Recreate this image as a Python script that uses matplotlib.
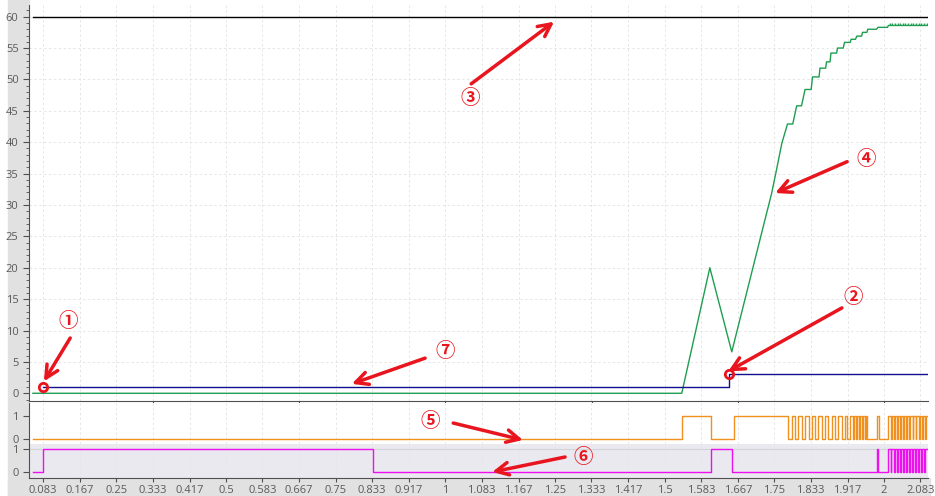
import numpy as np
import matplotlib.pyplot as plt
from matplotlib.patches import Rectangle
from matplotlib.ticker import MultipleLocator, FixedLocator

#-------------------------- data --------------------------

limit_t = [0.06, 2.1]                       # (3) upper limit
limit_v = [60, 60]

setpoint_t = [0.083, 1.647, 2.1]            # (7) blue step
setpoint_v = [1, 3, 3]

speed_t = [0.06, 1.539, 1.603, 1.653, 1.717, 1.744, 1.755, 1.767, 1.780, 1.792,
           1.801, 1.812, 1.820, 1.834, 1.837, 1.852, 1.854, 1.867, 1.869, 1.877,
           1.879, 1.892, 1.894, 1.907, 1.910, 1.923, 1.925, 1.935, 1.938, 1.949,
           1.951, 1.961, 1.963, 1.983, 1.986, 2.008, 2.010, 2.1]
speed_v = [0, 0, 20, 6.6, 24.4, 31.9, 35.6, 39.8, 42.9, 42.9,
           45.8, 45.8, 48.4, 48.4, 50.4, 50.4, 51.8, 51.8, 52.8, 52.8,
           54.2, 54.2, 55.0, 55.0, 55.9, 55.9, 56.4, 56.4, 56.9, 56.9,
           57.5, 57.5, 58.0, 58.0, 58.3, 58.3, 58.6, 58.6]
speed_tail_t = [2.013, 2.019, 2.025, 2.031, 2.037, 2.043, 2.049, 2.055,
                2.061, 2.067, 2.073, 2.079, 2.085, 2.091, 2.097]

out5_t = [0.06, 1.539, 1.605, 1.659, 1.782, 1.790, 1.797, 1.805, 1.812, 1.820,
          1.828, 1.835, 1.843, 1.850, 1.858, 1.866, 1.873, 1.881, 1.888, 1.896,
          1.904, 1.911, 1.916, 1.923, 1.929, 1.931, 1.936, 1.938, 1.943, 1.945,
          1.950, 1.952, 1.956, 1.958, 1.961, 1.983, 1.988, 2.010, 2.016, 2.018,
          2.023, 2.025, 2.030, 2.032, 2.037, 2.039, 2.044, 2.046, 2.051, 2.053,
          2.058, 2.060, 2.065, 2.067, 2.072, 2.074, 2.079, 2.081, 2.086, 2.088,
          2.093, 2.095, 2.1]
out5_v = [0, 1, 0, 1, 0, 1, 0, 1, 0, 1,
          0, 1, 0, 1, 0, 1, 0, 1, 0, 1,
          0, 1, 0, 1, 0, 1, 0, 1, 0, 1,
          0, 1, 0, 1, 0, 1, 0, 1, 0, 1,
          0, 1, 0, 1, 0, 1, 0, 1, 0, 1,
          0, 1, 0, 1, 0, 1, 0, 1, 0, 1,
          0, 1, 1]

out6_t = [0.06, 0.083, 0.835, 1.606, 1.653, 1.983, 1.986, 2.010, 2.015, 2.017,
          2.022, 2.024, 2.029, 2.031, 2.036, 2.038, 2.043, 2.045, 2.050, 2.052,
          2.057, 2.059, 2.064, 2.066, 2.071, 2.073, 2.078, 2.080, 2.085, 2.087,
          2.092, 2.094, 2.1]
out6_v = [0, 1, 0, 1, 0, 1, 0, 1, 0, 1,
          0, 1, 0, 1, 0, 1, 0, 1, 0, 1,
          0, 1, 0, 1, 0, 1, 0, 1, 0, 1,
          0, 1, 1]

xtick_labels = ['0.083', '0.167', '0.25', '0.333', '0.417', '0.5', '0.583', '0.667',
                '0.75', '0.833', '0.917', '1', '1.083', '1.167', '1.25', '1.333',
                '1.417', '1.5', '1.583', '1.667', '1.75', '1.833', '1.917', '2', '2.083']
xtick_pos = [float(s) for s in xtick_labels]
third_ticks = [1/3, 2/3, 1, 4/3, 5/3, 2]

#-------------------------- style --------------------------

plt.rcParams['font.family'] = ['Open Sans', 'DejaVu Sans']
RED = '#e8141e'
AXC = '#505050'
TXT = '#5a5a5a'
GRID = '#e6e6e6'
DASH = (0, (2.5, 2.5))
XL = (0.0511, 2.1003)

W, H = 935, 496
fig = plt.figure(figsize=(W / 100, H / 100), dpi=100)

def frac(x0, y0, x1, y1):
    # pixel box (top-left origin) -> figure fraction rect
    return [x0 / W, 1 - y1 / H, (x1 - x0) / W, (y1 - y0) / H]

# gray label bands
fig.patches.append(Rectangle((8 / W, 0), 21 / W, 1, transform=fig.transFigure,
                             color='#e1e1e1', zorder=-5))
fig.patches.append(Rectangle((8 / W, 0), 922 / W, 18 / H, transform=fig.transFigure,
                             color='#e1e1e1', zorder=-5))

ax = fig.add_axes(frac(29, 5, 928, 401))
ax5 = fig.add_axes(frac(29, 403, 928, 444))
ax6 = fig.add_axes(frac(29, 444, 928, 478))
ax6.set_facecolor('#e9e9ef')

for a in (ax, ax5, ax6):
    a.set_xlim(*XL)
    for s in a.spines.values():
        s.set_visible(False)
    a.spines['left'].set_visible(True)
    a.spines['left'].set_color(AXC)
    a.tick_params(axis='both', colors=AXC, labelcolor=TXT, labelsize=8, length=4, width=0.8)
    for xv in xtick_pos:
        a.axvline(xv, color=GRID, lw=0.7, ls=DASH, zorder=0)

# main panel
ax.set_ylim(-1.23, 61.86)
ax.set_yticks(np.arange(0, 61, 5))
ax.yaxis.set_minor_locator(MultipleLocator(1))
ax.tick_params(axis='y', which='minor', length=2, colors=AXC)
ax.spines['bottom'].set_visible(True)
ax.spines['bottom'].set_color(AXC)
ax.xaxis.set_major_locator(FixedLocator(third_ticks))
ax.tick_params(axis='x', labelbottom=False)
for yv in range(5, 61, 5):
    ax.axhline(yv, color=GRID, lw=0.7, ls=DASH, zorder=0)

ax.plot(limit_t, limit_v, color='black', lw=1)
ax.plot(speed_t, speed_v, color='#1e9e50', lw=1)
ax.vlines(speed_tail_t, 58.6, 59.0, color='#1e9e50', lw=1)
ax.plot(setpoint_t, setpoint_v, color='#101090', lw=1, drawstyle='steps-post')
ax.plot([setpoint_t[0], setpoint_t[1]], [setpoint_v[0], setpoint_v[1]], 'o', ms=6,
        mfc='none', mec=RED, mew=2, zorder=5)

# digital panels
ax5.set_ylim(-0.2, 1.56)
ax5.set_yticks([0, 1])
ax5.set_xticks([])
ax5.plot(out5_t, out5_v, color='#f0901e', lw=1, drawstyle='steps-post')

ax6.set_ylim(-0.264, 1.233)
ax6.set_yticks([0, 1])
ax6.axhline(1, color='#d4d4d8', lw=0.8, zorder=0)
ax6.spines['bottom'].set_visible(True)
ax6.spines['bottom'].set_color(AXC)
ax6.set_xticks(xtick_pos)
ax6.set_xticklabels(xtick_labels)
ax6.tick_params(axis='x', length=3, pad=2)
ax6.plot(out6_t, out6_v, color='#ee10ee', lw=1, drawstyle='steps-post')

#-------------------------- red callouts --------------------------

def callout(a, label, txt_xy, tail, head):
    a.text(*txt_xy, label, color=RED, fontsize=14, ha='center', va='center',
           fontweight='bold', family=['Noto Sans CJK JP', 'DejaVu Sans'], zorder=6)
    a.annotate('', xy=head, xytext=tail, annotation_clip=False, zorder=6,
               arrowprops=dict(arrowstyle='->,head_length=0.9,head_width=0.45',
                               color=RED, lw=2.5, shrinkA=0, shrinkB=0))

callout(ax, '①', (0.140, 11.4), (0.145, 8.8), (0.085, 1.9))
callout(ax, '②', (1.929, 15.2), (1.904, 13.6), (1.645, 3.5))
callout(ax, '③', (1.056, 46.9), (1.059, 49.3), (1.248, 59.2))
callout(ax, '④', (1.959, 37.2), (1.916, 36.9), (1.752, 31.9))
callout(ax, '⑦', (1.000, 6.6), (0.954, 5.6), (0.787, 1.5))
callout(ax5, '⑤', (0.965, 0.75), (1.018, 0.70), (1.177, -0.03))
callout(ax6, '⑥', (1.314, 0.62), (1.273, 0.66), (1.107, 0.0))

fig.savefig('out.png', dpi=100)
